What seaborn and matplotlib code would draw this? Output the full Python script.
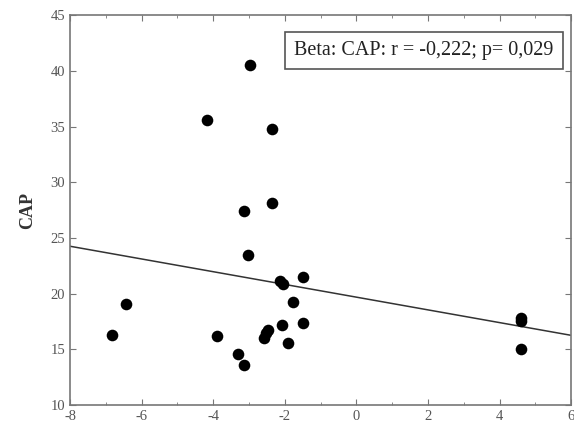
import numpy as np
import pandas as pd
import matplotlib
matplotlib.use("Agg")
import matplotlib.pyplot as plt
import seaborn as sns
from matplotlib.ticker import MultipleLocator

# values
beta = [-6.82, -6.45, -4.16, -3.90, -3.30, -3.13, -3.13, -3.04, -2.96,
        -2.57, -2.52, -2.48, -2.37, -2.35, -2.12, -2.06, -2.07, -1.90,
        -1.78, -1.50, -1.48, 4.60, 4.60, 4.60]
cap = [16.3, 19.1, 35.6, 16.2, 14.6, 13.6, 27.4, 23.5, 40.5,
       16.0, 16.5, 16.7, 28.1, 34.8, 21.1, 20.9, 17.2, 15.6,
       19.2, 21.5, 17.4, 17.5, 17.8, 15.0]
# fitted line as drawn in the reference
fit_x = [-8, 6]
fit_y = [24.25, 16.25]
label = "Beta: CAP: r = -0,222; p= 0,029"

df = pd.DataFrame({"Beta": beta, "CAP": cap})
fit = pd.DataFrame({"Beta": fit_x, "CAP": fit_y})

sns.set_style("ticks")
plt.rcParams["font.family"] = ["Liberation Serif", "DejaVu Serif"]
plt.rcParams["axes.unicode_minus"] = False

fig = plt.figure(figsize=(5.74, 4.34), dpi=100)
ax = fig.add_axes([0.122, 0.067, 0.873, 0.898])

sns.lineplot(data=fit, x="Beta", y="CAP", ax=ax, color="#333333", lw=1.1)
sns.scatterplot(data=df, x="Beta", y="CAP", ax=ax, color="black", s=70,
                linewidth=0, zorder=3)

ax.set_xlim(-8, 6)
ax.set_ylim(10, 45)
ax.set_xticks(np.arange(-8, 7, 2))
ax.set_yticks(np.arange(10, 46, 5))
ax.xaxis.set_minor_locator(MultipleLocator(1))
ax.tick_params(which="both", direction="in", top=True, right=True,
               color="#777777", labelcolor="#555555", labelsize=10.5)
ax.tick_params(which="major", length=4)
ax.tick_params(which="minor", length=2.5)
for s in ax.spines.values():
    s.set_color("#777777")
    s.set_linewidth(1.2)

ax.set_xlabel("")
ax.set_ylabel("CAP", fontsize=13, fontweight="bold", color="#333333", labelpad=10)

ax.text(0.965, 0.91, label, transform=ax.transAxes, ha="right", va="center",
        fontsize=14.5, color="#222222",
        bbox=dict(boxstyle="square,pad=0.45", fc="white", ec="#555555", lw=1.2))

fig.savefig("out.png", dpi=100)
